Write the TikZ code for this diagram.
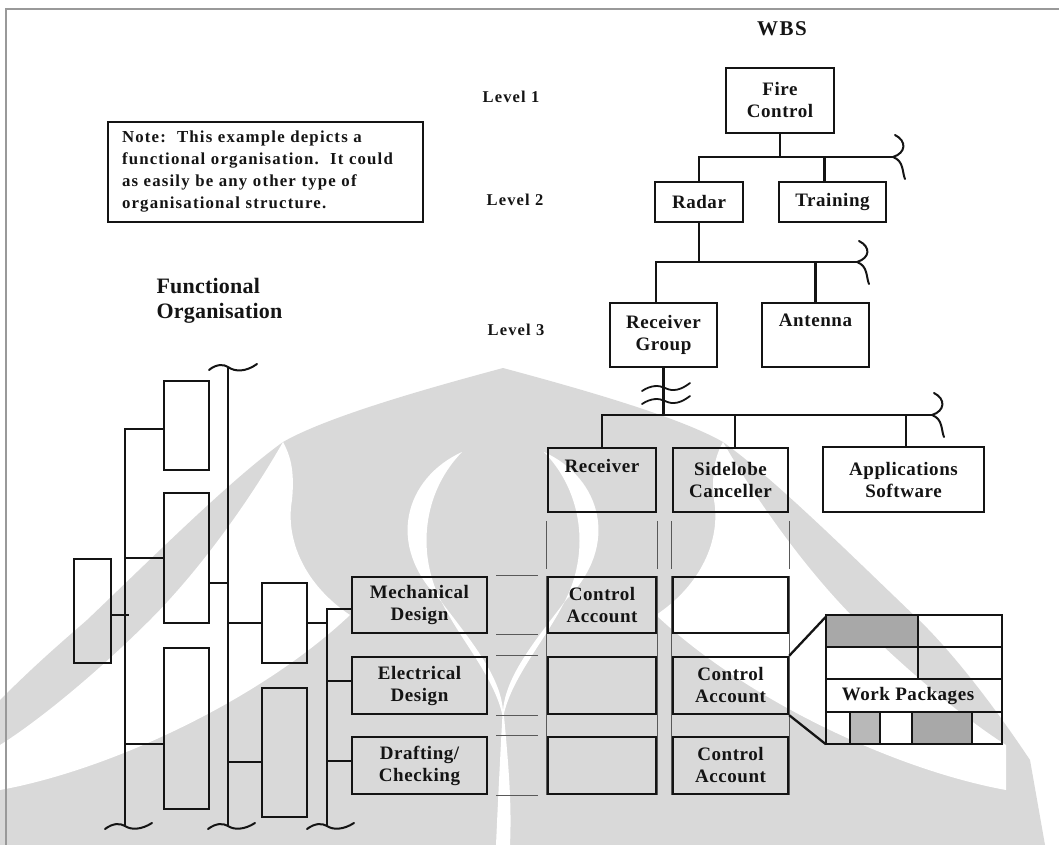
\documentclass[tikz,border=0pt]{standalone}
\usepackage{fontspec}
\setmainfont{Liberation Serif}
\newfontfamily\spaced[LetterSpace=3]{Liberation Serif}
\newfontfamily\wide[LetterSpace=7]{Liberation Serif}
\newfontfamily\tight[LetterSpace=1]{Liberation Serif}
\newcommand{\bxfont}{\spaced\bfseries\fontsize{19}{22}\selectfont}
\newcommand{\lvfont}{\wide\bfseries\fontsize{16.5}{20}\selectfont}
\newcommand{\notefont}{\wide\bfseries\fontsize{16.8}{22}\selectfont}
\newcommand{\ttlfont}{\wide\bfseries\fontsize{21}{25}\selectfont}
\newcommand{\fofont}{\tight\bfseries\fontsize{22}{25}\selectfont}
% one half of the background emblem; the other half is its mirror image
\newcommand{\emblemhalf}{%
  \fill[white] (283,442) .. controls (250,500) and (200,570) .. (150,620)
       .. controls (100,670) and (40,720) .. (0,745) -- (0,790)
       .. controls (110,770) and (260,700) .. (350,615)
       .. controls (305,585) and (285,540) .. (292,500)
       .. controls (295,470) and (290,455) .. (283,442) -- cycle;
  \fill[white] (462,452) .. controls (405,478) and (385,545) .. (440,600)
       .. controls (470,640) and (505,680) .. (503,718)
       .. controls (495,675) and (455,635) .. (436,590)
       .. controls (418,545) and (425,490) .. (462,452) -- cycle;
}
\begin{document}
\begin{tikzpicture}[x=1pt,y=-1pt,
  box/.style={draw=ink, line width=2.3pt, inner sep=0pt, align=center, font=\bxfont, text=ink},
  tallbox/.style={draw=ink, line width=2.3pt, inner sep=0pt},
  conn/.style={draw=ink, line width=2.3pt},
  guide/.style={draw=black!65, line width=1pt},
  brk/.style={draw=ink, line width=2pt, line cap=round},
  lvl/.style={font=\lvfont, text=ink},
  ttl/.style={font=\ttlfont, text=ink},
  wpline/.style={draw=ink, line width=2.4pt},
  wpfill/.style={fill=black!34}]
\colorlet{ink}{black!92}
\colorlet{emblem}{black!15}
\useasboundingbox (0,0) rectangle (1059,845);

% ---------- background emblem ----------
\fill[emblem] (0,700) .. controls (40,660) and (70,635) .. (87,620)
   .. controls (150,560) and (230,480) .. (283,442)
   .. controls (330,415) and (440,385) .. (503,368)
   .. controls (566,385) and (676,415) .. (723,442)
   .. controls (776,480) and (856,560) .. (919,620)
   .. controls (950,650) and (990,700) .. (1030,760)
   -- (1045,845) -- (0,845) -- cycle;
\emblemhalf
\begin{scope}[shift={(1006,0)}, xscale=-1]
  \emblemhalf
\end{scope}
\fill[white] (503,705) .. controls (508,760) and (512,800) .. (510,845)
   -- (496,845) .. controls (498,800) and (500,760) .. (503,705) -- cycle;

% page frame
\draw[black!40, line width=2pt] (6,845) -- (6,9) -- (1059,9);

% ---------- WBS tree ----------
\node[ttl] (wbs) at (782,29) {WBS};
\node[lvl] (lv1) at (511,97) {Level 1};
\node[lvl] (lv2) at (515,200) {Level 2};
\node[lvl] (lv3) at (516,330) {Level 3};

\node[box, minimum width=108pt, minimum height=65pt] (fc) at (780,100.5) {Fire\\Control};
\node[box, minimum width=88pt, minimum height=40pt] (radar) at (699,202) {Radar};
\node[box, minimum width=107pt, minimum height=40pt] (train) at (832.5,202) {Training};
\node[box, minimum width=107pt, minimum height=64pt] (rg) at (663.5,335) {Receiver\\Group};
\node[box, minimum width=107pt, minimum height=64pt] (ant) at (815.5,335) {Antenna\\\strut};
\node[box, minimum width=108pt, minimum height=64pt] (rcv) at (602,480) {Receiver\\\strut};
\node[box, minimum width=115pt, minimum height=64pt] (sdl) at (730.5,480) {Sidelobe\\Canceller};
\node[box, minimum width=161pt, minimum height=65pt] (app) at (903.5,479.5) {Applications\\Software};

% level 2 branch
\coordinate (bar1) at (893,157);
\draw[conn] (fc.south) -- (fc.south |- bar1);
\draw[conn] (radar.north) |- (bar1);
\draw[conn] ([xshift=-8pt]train.north) -- ([xshift=-8pt]train.north |- bar1);
\draw[brk] (895,135) .. controls (907,141) and (906,153) .. (893,157)
           .. controls (904,161) and (902,172) .. (905,179);

% level 3 branch
\coordinate (bar2) at (857,262);
\draw[conn] (radar.south) -- (radar.south |- bar2);
\draw[conn] ([xshift=-7.5pt]rg.north) |- (bar2);
\draw[conn] (ant.north) -- (ant.north |- bar2);
\draw[brk] (859,241) .. controls (871,247) and (870,258) .. (857,262)
           .. controls (868,266) and (866,277) .. (869,284);

% level 4 branch
\coordinate (bar3) at (932,415);
\draw[conn] (rg.south) -- (rg.south |- bar3);
\draw[conn] (rcv.north) |- (bar3);
\draw[conn] ([xshift=4.5pt]sdl.north) -- ([xshift=4.5pt]sdl.north |- bar3);
\draw[conn] ([xshift=2.5pt]app.north) -- ([xshift=2.5pt]app.north |- bar3);
\draw[brk] (934,393) .. controls (946,399) and (945,411) .. (932,415)
           .. controls (943,419) and (941,430) .. (944,437);
% break marks on the Receiver Group link
\foreach \yy in {388,401}
  \draw[brk, line width=1.8pt] (642,\yy+3) .. controls (651,\yy-3) and (659,\yy-3) .. (665,\yy)
        .. controls (673,\yy+4) and (681,\yy+2) .. (690,\yy-5);

% ---------- note ----------
\node[draw=ink, line width=1.8pt, minimum width=315pt, minimum height=100pt,
      inner sep=0pt, text width=287pt, align=left, font=\notefont, text=ink] (note) at (265.5,172)
  {Note:\ \ This example depicts a\\functional organisation.\ \ It could\\as easily be any other type of\\organisational structure.};

\node[align=left, anchor=west, font=\fofont, text=ink] (fo) at (153,300.5) {Functional\\Organisation};

% ---------- functional organisation tree ----------
\node[tallbox, minimum width=37pt, minimum height=104pt] (l0) at (92.5,611) {};
\node[tallbox, minimum width=45pt, minimum height=89pt]  (a1) at (186.5,425.5) {};
\node[tallbox, minimum width=45pt, minimum height=130pt] (a2) at (186.5,558) {};
\node[tallbox, minimum width=45pt, minimum height=161pt] (a3) at (186.5,728.5) {};
\node[tallbox, minimum width=45pt, minimum height=80pt]  (b1) at (284.5,623) {};
\node[tallbox, minimum width=45pt, minimum height=129pt] (b2) at (284.5,752.5) {};

\coordinate (v1) at (125,827);
\coordinate (v2top) at (228,368);
\coordinate (v2) at (228,827);
\coordinate (v3) at (327,827);

\draw[conn] ([yshift=-3.5pt]a1.west) -| (v1);
\draw[conn] (a2.west) -- (a2.west -| v1);
\draw[conn] ([yshift=-15.5pt]a3.west) -- ([yshift=-15.5pt]a3.west -| v1);
\draw[conn] ([yshift=-4pt]l0.east) -- ([yshift=-4pt,xshift=4pt]l0.east -| v1);

\draw[conn] (v2top) -- (v2);
\draw[conn] ([yshift=-25pt]a2.east) -- ([yshift=-25pt]a2.east -| v2);
\draw[conn] (b1.west) -- (b1.west -| v2);
\draw[conn] ([yshift=-9.5pt]b2.west) -- ([yshift=-9.5pt]b2.west -| v2);

% ---------- functions and control accounts ----------
\node[box, minimum width=135pt, minimum height=56pt] (mech) at (419.5,605) {Mechanical\\Design};
\node[box, minimum width=135pt, minimum height=57pt] (elec) at (419.5,685.5) {Electrical\\Design};
\node[box, minimum width=135pt, minimum height=57pt] (draft) at (419.5,765.5) {Drafting/\\Checking};

\draw[conn] (b1.east) -- (b1.east -| v3);
\draw[conn] ([yshift=-4pt]mech.west) -| (v3);
\draw[conn] ([yshift=4.5pt]elec.west) -- ([yshift=4.5pt]elec.west -| v3);
\draw[conn] ([yshift=4.5pt]draft.west) -- ([yshift=4.5pt]draft.west -| v3);

% column guides below the WBS elements
\foreach \c in {rcv.south west, rcv.south east, sdl.south west, sdl.south east}
  \draw[guide] ([yshift=-8pt]\c) -- ([yshift=-56pt]\c);

\node[box, minimum width=108pt, minimum height=56pt] (ca11) at (602,605) {Control\\Account};
\node[box, minimum width=108pt, minimum height=57pt] (ca12) at (602,685.5) {};
\node[box, minimum width=108pt, minimum height=57pt] (ca13) at (602,765.5) {};
\node[box, minimum width=115pt, minimum height=56pt] (ca21) at (730.5,605) {};
\node[box, minimum width=115pt, minimum height=57pt] (ca22) at (730.5,685.5) {Control\\Account};
\node[box, minimum width=115pt, minimum height=57pt] (ca23) at (730.5,765.5) {Control\\Account};

\draw[guide] (ca11.north west) -- (ca13.south west);
\draw[guide] (ca11.north east) -- (ca13.south east);
\draw[guide] (ca21.north west) -- (ca23.south west);
\draw[guide] (ca21.north east) -- (ca23.south east);

% row guides between functions and control accounts
\foreach \f/\a in {mech/ca11, elec/ca12, draft/ca13} {
  \draw[guide] ([xshift=8pt]\f.north east) -- ([xshift=-9pt]\a.north west);
  \draw[guide] ([xshift=8pt]\f.south east) -- ([xshift=-9pt]\a.south west);
}

% ---------- work packages ----------
\node[minimum width=176pt, minimum height=129pt, inner sep=0pt] (wp) at (914,679.5) {};
\fill[wpfill] (826,615) rectangle (918,647);
\fill[wpfill, fill=black!28] (850,712) rectangle (880,744);
\fill[wpfill] (912,712) rectangle (972,744);
\draw[wpline] (826,647) -- (1002,647);
\draw[wpline] (826,679) -- (1002,679);
\draw[wpline] (826,712) -- (1002,712);
\draw[wpline] (918,615) -- (918,679);
\foreach \xx in {850,880,912,972} \draw[wpline] (\xx,712) -- (\xx,744);
\draw[wpline] (wp.north west) rectangle (wp.south east);
\node[font=\bxfont, text=ink] (wpt) at (908,695.5) {Work Packages};
\draw[conn] (ca22.north east) -- ([yshift=-2pt]wp.north west);
\draw[conn] (ca22.south east) -- (wp.south west);

% ---------- break marks on the organisation verticals ----------
\draw[brk] (209,370) .. controls (216,364) and (224,364) .. (228,367)
           .. controls (235,372) and (246,372) .. (257,364);
\foreach \xx in {125,228,327}
  \draw[brk] (\xx-20,829) .. controls (\xx-12,823) and (\xx-5,823) .. (\xx,826)
             .. controls (\xx+6,830) and (\xx+16,830) .. (\xx+27,823);
\end{tikzpicture}
\end{document}
